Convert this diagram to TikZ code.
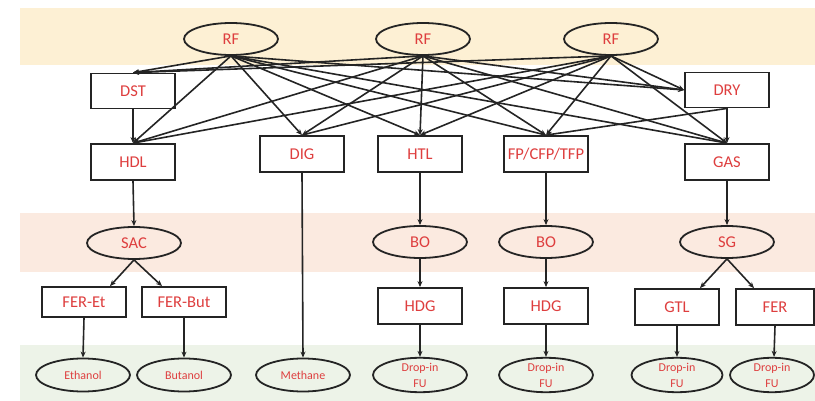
\documentclass[tikz,border=0pt]{standalone}
\usepackage{fontspec}
\setmainfont{Carlito}
\usetikzlibrary{shapes.geometric,arrows.meta}
\definecolor{bandtop}{RGB}{253,240,212}
\definecolor{bandmid}{RGB}{251,234,224}
\definecolor{bandlow}{RGB}{237,243,232}
\definecolor{lbl}{RGB}{222,62,62}
\definecolor{ink}{RGB}{36,36,36}

\begin{document}
\begin{tikzpicture}[x=1pt,y=-1pt,
  every node/.style={text=lbl, font=\fontsize{16.5}{18}\selectfont, inner sep=0pt},
  proc/.style={draw=ink, line width=1.8pt, fill=white, rectangle,
               minimum width=84pt, minimum height=36pt},
  pool/.style={draw=ink, line width=1.8pt, ellipse,
               minimum width=94pt, minimum height=32pt},
  prod/.style={pool, minimum height=33pt,
               font=\fontsize{12}{16}\selectfont, align=center},
  flow/.style={draw=ink, line width=1.6pt, -{Stealth[length=6pt,width=5pt]}}
]
\useasboundingbox (0,0) rectangle (815,401);

% background bands
\fill[bandtop] (20,8) rectangle (815,65);
\fill[bandmid] (20,213) rectangle (815,272);
\fill[bandlow] (20,345) rectangle (815,401);

% feedstocks
\node[pool] (rf1) at (231,39) {RF};
\node[pool] (rf2) at (423,39) {RF};
\node[pool] (rf3) at (611,39) {RF};

% pretreatment and conversion steps
\node[proc, minimum height=35pt] (dst) at (133,91) {DST};
\node[proc, minimum height=35pt] (dry) at (727,90) {DRY};
\node[proc] (hdl) at (133,162) {HDL};
\node[proc] (dig) at (302,154) {DIG};
\node[proc] (htl) at (420,154) {HTL};
\node[proc] (fp)  at (546,154) {FP/CFP/TFP};
\node[proc] (gas) at (727,162) {GAS};

% intermediates
\node[pool] (sac) at (134,243) {SAC};
\node[pool] (bo1) at (420,242) {BO};
\node[pool] (bo2) at (546,242) {BO};
\node[pool] (sg)  at (727,242) {SG};

% upgrading steps
\node[proc, minimum height=30pt] (feret)  at (84,302)  {FER-Et};
\node[proc, minimum height=30pt] (ferbut) at (184,302) {FER-But};
\node[proc] (hdg1) at (420,306) {HDG};
\node[proc] (hdg2) at (546,306) {HDG};
\node[proc] (gtl)  at (677,307) {GTL};
\node[proc, minimum width=78pt] (fer) at (775,307) {FER};

% products
\node[prod] (eth)  at (83,375)  {Ethanol};
\node[prod] (but)  at (184,375) {Butanol};
\node[prod] (meth) at (303,375) {Methane};
\node[prod] (fu1)  at (420,375) {Drop-in\\FU};
\node[prod] (fu2)  at (546,375) {Drop-in\\FU};
\node[prod, minimum width=91pt] (fu3) at (677,375) {Drop-in\\FU};
\node[prod, minimum width=84pt] (fu4) at (772,375) {Drop-in\\FU};

% every feedstock feeds every first step
\foreach \r in {rf1,rf2,rf3}{
  \foreach \t in {dst,hdl,dig,htl,fp,gas}
    \draw[flow] (\r.south) -- (\t.north);
  \draw[flow] (\r.south) -- (dry.west);
}

% pretreatment links
\draw[flow] (dst.south) -- (hdl.north);
\draw[flow] (dry.south) -- (gas.north);
\draw[flow] (dry.south) -- (fp.north);

% conversion to intermediates
\draw[flow] (hdl.south) -- (sac.north);
\draw[flow] (dig.south) -- (meth.north);
\draw[flow] (htl.south) -- (bo1.north);
\draw[flow] (fp.south)  -- (bo2.north);
\draw[flow] (gas.south) -- (sg.north);

% intermediates to upgrading
\draw[flow] (sac.south) -- ([xshift=26pt]feret.north);
\draw[flow] (sac.south) -- ([xshift=-22pt]ferbut.north);
\draw[flow] (bo1.south) -- (hdg1.north);
\draw[flow] (bo2.south) -- (hdg2.north);
\draw[flow] (sg.south) -- ([xshift=23pt]gtl.north);
\draw[flow] (sg.south) -- ([xshift=-21pt]fer.north);

% upgrading to products
\draw[flow] (feret.south)  -- (eth.north);
\draw[flow] (ferbut.south) -- (but.north);
\draw[flow] (hdg1.south) -- (fu1.north);
\draw[flow] (hdg2.south) -- (fu2.north);
\draw[flow] (gtl.south)  -- (fu3.north);
\draw[flow] (fer.south)  -- ([xshift=2pt]fu4.north);
\end{tikzpicture}
\end{document}
